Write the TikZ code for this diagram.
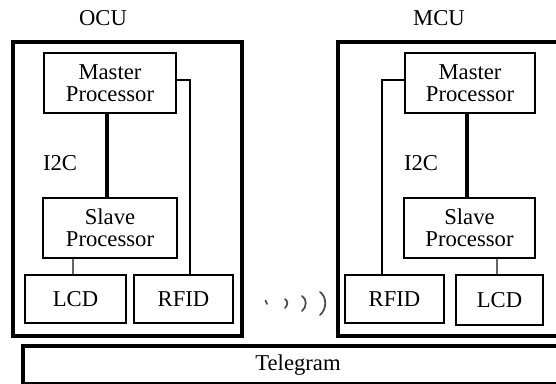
\documentclass[tikz,border=0pt]{standalone}
\usepackage{fontspec}
\setmainfont{Liberation Serif}
\usetikzlibrary{calc}
\begin{document}
\begin{tikzpicture}[x=0.75pt,y=-0.75pt,
  txt/.style={font=\fontsize{17}{16.5}\selectfont,text=black},
  outerbox/.style={draw,line width=2.4pt,inner sep=0pt},
  unitbox/.style={draw,line width=1.6pt,inner sep=0pt,align=center,txt},
  busline/.style={line width=2.3pt},
  wire/.style={line width=1.5pt},
  thinwire/.style={line width=0.8pt,draw=black!60},
  wave/.style={line width=1.3pt,draw=black!70,line cap=round}]
\useasboundingbox (0,0) rectangle (556,383);
\clip (0,0) rectangle (556,383);

% ---------- OCU ----------
\node[txt] (ocul) at (103,18) {OCU};
\node[outerbox,minimum width={229*0.75pt},minimum height={294*0.75pt}] (ocu) at (127.5,189) {};
\node[unitbox,minimum width={132*0.75pt},minimum height={60*0.75pt}] (om) at (110,83) {Master\\Processor};
\node[unitbox,minimum width={134*0.75pt},minimum height={60*0.75pt}] (os) at (110,228) {Slave\\Processor};
\node[unitbox,minimum width={101*0.75pt},minimum height={48*0.75pt}] (olcd) at (75.5,299) {LCD};
\node[unitbox,minimum width={99*0.75pt},minimum height={48*0.75pt}] (orfid) at (183.5,299) {RFID};
\node[txt] (oi2c) at (60,163) {I2C};
\coordinate (omr) at ($(om.east)+(0,-3)$);
\coordinate (orf) at ($(orfid.north)+(6.5,0)$);
\draw[busline] ($(om.south)+(-3,0)$) -- ($(os.north)+(-3,0)$);
\draw[wire] (omr) -| (orf);
\draw[thinwire] ($(olcd.north)+(-2.5,0)$) -- ($(os.south -| olcd.north)+(-2.5,0)$);

% ---------- MCU ----------
\node[txt] (mcul) at (439,18) {MCU};
\node[outerbox,minimum width={232*0.75pt},minimum height={294*0.75pt}] (mcu) at (454,189) {};
\node[unitbox,minimum width={130*0.75pt},minimum height={60*0.75pt}] (mm) at (470,83) {Master\\Processor};
\node[unitbox,minimum width={131*0.75pt},minimum height={60*0.75pt}] (ms) at (469.5,228) {Slave\\Processor};
\node[unitbox,minimum width={99*0.75pt},minimum height={48*0.75pt}] (mrfid) at (394.5,299) {RFID};
\node[unitbox,minimum width={87*0.75pt},minimum height={50*0.75pt}] (mlcd) at (499.5,300) {LCD};
\node[txt] (mi2c) at (421,163) {I2C};
\coordinate (mml) at ($(mm.west)+(0,-3)$);
\coordinate (mrf) at ($(mrfid.north)+(-12.5,0)$);
\draw[busline] ($(mm.south)+(-3,0)$) -- ($(ms.north)+(-2.5,0)$);
\draw[wire] (mml) -| (mrf);
\draw[thinwire] ($(mlcd.north)+(-2.5,0)$) -- ($(ms.south -| mlcd.north)+(-2.5,0)$);

% ---------- Telegram ----------
\node[outerbox,txt,minimum width={550*0.75pt},minimum height={38*0.75pt}] (tg) at (298,365) {Telegram};

% ---------- wireless waves ----------
\draw[wave] (265.5,300.5) -- (267,304);
\draw[wave] (285,299) .. controls (288,301) and (288,305) .. (285,308);
\draw[wave] (302,296) .. controls (307,299) and (307,307) .. (302,311);
\draw[wave] (320,292) .. controls (327,297) and (327,309) .. (320,315);
\end{tikzpicture}
\end{document}
